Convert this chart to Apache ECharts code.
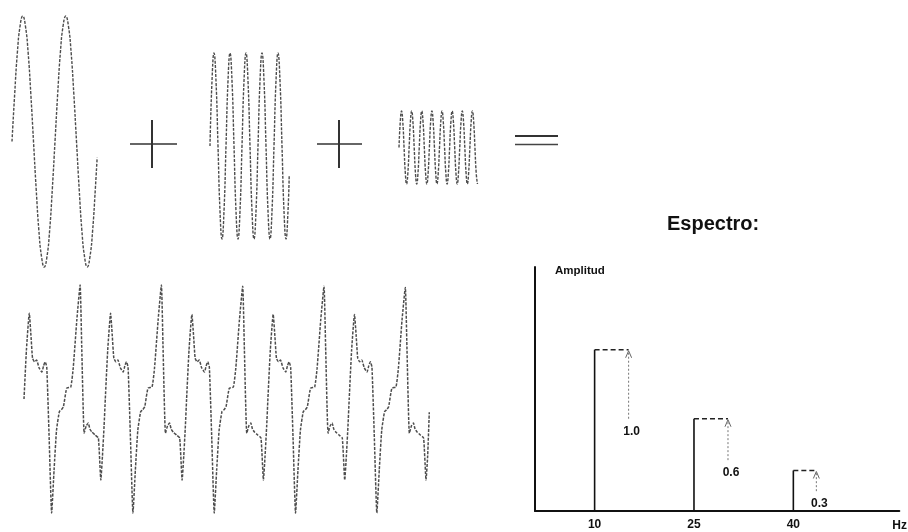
<!DOCTYPE html>
<html><head><meta charset="utf-8">
<script src="https://cdn.jsdelivr.net/npm/echarts@6/dist/echarts.min.js"></script>
<style>html,body{margin:0;padding:0;background:#fff}#c{width:908px;height:532px}</style>
</head><body><div id="c"></div>
<script>
// ===== DATA =====
// Component 1: 10 Hz, amplitude 1.0 (time in ms)
const wave1Time = [0,6.25,12.5,18.75,25,31.25,37.5,43.75,50,56.25,62.5,68.75,75,81.25,87.5,93.75,
  100,106.25,112.5,118.75,125,131.25,137.5,143.75,150,156.25,162.5,168.75,175,181.25,187.5,193.75,198];
const wave1Value = [0,0.38,0.71,0.92,1,0.92,0.71,0.38,0,-0.38,-0.71,-0.92,-1,-0.92,-0.71,-0.38,
  0,0.38,0.71,0.92,1,0.92,0.71,0.38,0,-0.38,-0.71,-0.92,-1,-0.92,-0.71,-0.38,-0.13];

// Component 2: 25 Hz, amplitude 0.6
const wave2Time = [0,5,10,15,20,25,30,35,40,45,50,55,60,65,70,75,80,85,90,95,
  100,105,110,115,120,125,130,135,140,145,150,155,160,165,170,175,180,185,190,195,198];
const wave2Value = [0,0.42,0.6,0.42,0,-0.42,-0.6,-0.42, 0,0.42,0.6,0.42,0,-0.42,-0.6,-0.42,
  0,0.42,0.6,0.42,0,-0.42,-0.6,-0.42, 0,0.42,0.6,0.42,0,-0.42,-0.6,-0.42,
  0,0.42,0.6,0.42,0,-0.42,-0.6,-0.42, -0.19];

// Component 3: 40 Hz, amplitude 0.3
const wave3Time = [0,3.125,6.25,9.375,12.5,15.625,18.75,21.875,
  25,28.125,31.25,34.375,37.5,40.625,43.75,46.875,
  50,53.125,56.25,59.375,62.5,65.625,68.75,71.875,
  75,78.125,81.25,84.375,87.5,90.625,93.75,96.875,
  100,103.125,106.25,109.375,112.5,115.625,118.75,121.875,
  125,128.125,131.25,134.375,137.5,140.625,143.75,146.875,
  150,153.125,156.25,159.375,162.5,165.625,168.75,171.875,
  175,178.125,181.25,184.375,187.5,190.625,193.75];
const wave3Value = [0,0.21,0.3,0.21,0,-0.21,-0.3,-0.21, 0,0.21,0.3,0.21,0,-0.21,-0.3,-0.21,
  0,0.21,0.3,0.21,0,-0.21,-0.3,-0.21, 0,0.21,0.3,0.21,0,-0.21,-0.3,-0.21,
  0,0.21,0.3,0.21,0,-0.21,-0.3,-0.21, 0,0.21,0.3,0.21,0,-0.21,-0.3,-0.21,
  0,0.21,0.3,0.21,0,-0.21,-0.3,-0.21, 0,0.21,0.3,0.21,0,-0.21,-0.3];

// Sum signal
const sumTime = [
  0,6,13,17,21,26,31,37,44,48,52,56,62,68,74,80,87,92,97,105,115,121,130,138,142,148,153,158,162,167,175,183,189,193,197,
  200,206,213,217,221,226,231,237,244,248,252,256,262,268,274,280,287,292,297,305,315,321,330,338,342,348,353,358,362,367,375,383,389,393,397,
  400,406,413,417,421,426,431,437,444,448,452,456,462,468,474,480,487,492,497,505,515,521,530,538,542,548,553,558,562,567,575,583,589,593,597,
  600,606,613,617,621,626,631,637,644,648,652,656,662,668,674,680,687,692,697,705,715,721,730,738,742,748,753,758,762,767,775,783,789,793,797,
  800,806,813,817,821,826,831,837,844,848,852,856,862,868,874,880,887,892,897,905,915,921,930,938,942,948,953,958,962,967,975,983,989,993,997];
const sumValue = [
  0,0.82,1.43,1.07,0.68,0.62,0.65,0.52,0.45,0.55,0.62,0.53,-0.68,-1.9,-1.18,-0.52,-0.21,-0.18,-0.13,0.18,0.2,0.51,1.32,1.9,0.87,-0.57,-0.45,-0.4,-0.5,-0.55,-0.6,-0.65,-1.35,-0.95,-0.45,
  0,0.82,1.43,1.07,0.68,0.62,0.65,0.52,0.45,0.55,0.62,0.53,-0.68,-1.9,-1.18,-0.52,-0.21,-0.18,-0.13,0.18,0.2,0.51,1.32,1.9,0.87,-0.57,-0.45,-0.4,-0.5,-0.55,-0.6,-0.65,-1.35,-0.95,-0.45,
  0,0.82,1.41,1.07,0.68,0.62,0.65,0.52,0.45,0.55,0.62,0.53,-0.68,-1.9,-1.18,-0.52,-0.21,-0.18,-0.13,0.18,0.2,0.51,1.32,1.88,0.87,-0.57,-0.45,-0.4,-0.5,-0.55,-0.6,-0.65,-1.35,-0.95,-0.45,
  0,0.82,1.41,1.07,0.68,0.62,0.65,0.52,0.45,0.55,0.62,0.53,-0.68,-1.9,-1.18,-0.52,-0.21,-0.18,-0.13,0.18,0.2,0.51,1.32,1.88,0.87,-0.57,-0.45,-0.4,-0.5,-0.55,-0.6,-0.65,-1.35,-0.95,-0.45,
  0,0.82,1.41,1.07,0.68,0.62,0.65,0.52,0.45,0.55,0.62,0.53,-0.68,-1.9,-1.18,-0.52,-0.21,-0.18,-0.13,0.18,0.2,0.51,1.32,1.86,0.87,-0.57,-0.45,-0.4,-0.5,-0.55,-0.6,-0.65,-1.35,-0.95,-0.22];

// Spectrum
const specFreq = [10, 25, 40];
const specAmp = [1.0, 0.6, 0.3];
const specTitle = 'Espectro:';
const specYName = 'Amplitud';
const specXName = 'Hz';

// ===== CHART =====
const zip = (a, b) => a.map((x, i) => [x, b[i]]);
const FONT = '"Liberation Sans", Arial, sans-serif';
const waveLine = { color: '#4d4d4d', width: 1.4, type: [3, 1.4] };
const capPx = [34, 34, 23];
const specYMin = 0.065, specYMax = 1.48;

const chart = echarts.init(document.getElementById('c'), null, { renderer: 'canvas' });
const hiddenX = (i, max) => ({ gridIndex: i, type: 'value', min: 0, max: max, show: false });
const hiddenY = (i, a) => ({ gridIndex: i, type: 'value', min: -a, max: a, show: false });

chart.setOption({
  animation: false,
  backgroundColor: '#ffffff',
  title: {
    text: specTitle, left: 667, top: 214, padding: 0,
    textStyle: { fontFamily: FONT, fontSize: 20, fontWeight: 'bold', color: '#111' }
  },
  grid: [
    { left: 12, top: 16, width: 86, height: 251 },
    { left: 210, top: 53, width: 80, height: 186 },
    { left: 399, top: 111, width: 81, height: 73 },
    { left: 24, top: 285, width: 406.5, height: 228 },
    { left: 535, top: 267, width: 365, height: 245 }
  ],
  xAxis: [
    hiddenX(0, 200), hiddenX(1, 200), hiddenX(2, 200), hiddenX(3, 1000),
    {
      gridIndex: 4, type: 'value', min: 1, max: 56,
      axisLine: { show: true, onZero: false, lineStyle: { color: '#111', width: 2 } },
      axisTick: { show: false }, splitLine: { show: false },
      axisLabel: { customValues: specFreq, color: '#111', fontFamily: FONT, fontWeight: 'bold', fontSize: 12, margin: 8 },
      name: specXName, nameLocation: 'end', nameGap: -7,
      nameTextStyle: { color: '#111', fontFamily: FONT, fontWeight: 'bold', fontSize: 12, verticalAlign: 'top', align: 'left', padding: [9, 0, 0, 0] }
    }
  ],
  yAxis: [
    hiddenY(0, 1), hiddenY(1, 0.6), hiddenY(2, 0.3), hiddenY(3, 1.9),
    {
      gridIndex: 4, type: 'value', min: specYMin, max: specYMax,
      axisLine: { show: true, onZero: false, lineStyle: { color: '#111', width: 2 } },
      axisTick: { show: false }, axisLabel: { show: false }, splitLine: { show: false },
      name: specYName, nameLocation: 'end', nameGap: -4,
      nameTextStyle: { color: '#111', fontFamily: FONT, fontWeight: 'bold', fontSize: 11.5, align: 'left', verticalAlign: 'middle', padding: [0, 0, 0, 20] }
    }
  ],
  graphic: {
    elements: [
      { type: 'line', shape: { x1: 130, y1: 144, x2: 177, y2: 144 }, style: { stroke: '#333', lineWidth: 1.4 } },
      { type: 'line', shape: { x1: 152, y1: 120, x2: 152, y2: 168 }, style: { stroke: '#333', lineWidth: 2 } },
      { type: 'line', shape: { x1: 317, y1: 144, x2: 362, y2: 144 }, style: { stroke: '#333', lineWidth: 1.4 } },
      { type: 'line', shape: { x1: 339, y1: 120, x2: 339, y2: 168 }, style: { stroke: '#333', lineWidth: 2 } },
      { type: 'line', shape: { x1: 515, y1: 136, x2: 558, y2: 136 }, style: { stroke: '#333', lineWidth: 2 } },
      { type: 'line', shape: { x1: 515, y1: 144.5, x2: 558, y2: 144.5 }, style: { stroke: '#444', lineWidth: 1.5 } }
    ]
  },
  series: [
    { name: '10 Hz', type: 'line', xAxisIndex: 0, yAxisIndex: 0, data: zip(wave1Time, wave1Value), smooth: true, showSymbol: false, clip: false, lineStyle: waveLine },
    { name: '25 Hz', type: 'line', xAxisIndex: 1, yAxisIndex: 1, data: zip(wave2Time, wave2Value), smooth: true, showSymbol: false, clip: false, lineStyle: waveLine },
    { name: '40 Hz', type: 'line', xAxisIndex: 2, yAxisIndex: 2, data: zip(wave3Time, wave3Value), smooth: true, showSymbol: false, clip: false, lineStyle: waveLine },
    { name: 'Suma', type: 'line', xAxisIndex: 3, yAxisIndex: 3, data: zip(sumTime, sumValue), smooth: 0.15, showSymbol: false, clip: false, lineStyle: { color: '#4d4d4d', width: 1.5, type: [3, 1.4] } },
    {
      name: specTitle, type: 'custom', xAxisIndex: 4, yAxisIndex: 4, clip: false,
      data: zip(specFreq, specAmp),
      renderItem: function (params, api) {
        const f = api.value(0), a = api.value(1);
        const p0 = api.coord([f, specYMin]);
        const p1 = api.coord([f, a]);
        const pb = api.coord([f, a * 0.6]);
        const ax = p1[0] + capPx[params.dataIndex];
        return {
          type: 'group',
          children: [
            { type: 'line', shape: { x1: p0[0], y1: p0[1], x2: p1[0], y2: p1[1] }, style: { stroke: '#111', lineWidth: 1.6 } },
            { type: 'line', shape: { x1: p1[0], y1: p1[1], x2: ax, y2: p1[1] }, style: { stroke: '#222', lineWidth: 1.3, lineDash: [5, 3] } },
            { type: 'line', shape: { x1: ax, y1: pb[1], x2: ax, y2: p1[1] + 2 }, style: { stroke: '#777', lineWidth: 1, lineDash: [2, 2] } },
            { type: 'polyline', shape: { points: [[ax - 3, p1[1] + 8], [ax, p1[1] + 1], [ax + 3, p1[1] + 8]] }, style: { stroke: '#666', lineWidth: 1, fill: null } },
            { type: 'text', x: ax + 3, y: pb[1] + 7, style: { text: a.toFixed(1), align: 'center', verticalAlign: 'top', fill: '#111', font: 'bold 12px ' + FONT } }
          ]
        };
      }
    }
  ]
});
</script></body></html>
